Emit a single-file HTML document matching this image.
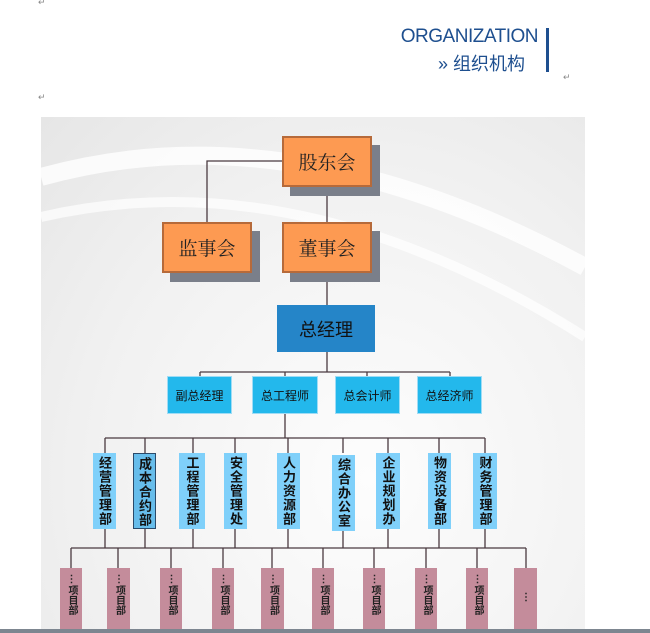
<!DOCTYPE html>
<html><head><meta charset="utf-8"><style>
body{margin:0;width:650px;height:633px;background:#fff;position:relative;overflow:hidden;font-family:"Liberation Sans","Noto Sans CJK SC",sans-serif}
.a{position:absolute}
.panel{left:41px;top:117px;width:544px;height:516px;background:radial-gradient(ellipse at 60% 70%,#fdfdfd 0%,#f1f1f1 60%,#e6e6e6 100%);overflow:hidden}
.or{background:#fd9a52;border:2px solid #b66a3a;box-shadow:8px 9px 0 #7a7f8a;box-sizing:border-box;font-family:"Noto Serif CJK SC",serif;font-size:19px;color:#222;display:flex;align-items:center;justify-content:center}
.b2{background:#23b8ec;font-size:12px;color:#111;display:flex;align-items:center;justify-content:center;box-sizing:border-box;border:1px solid #9fdcf5}
.d{background:#7fd0fa;font-size:13px;font-weight:bold;color:#111;box-sizing:border-box;line-height:1}
.d span{position:absolute;left:0;right:0;top:3px;writing-mode:vertical-rl;text-orientation:upright;white-space:nowrap;letter-spacing:1px;margin:0 auto;width:13px}
.p{background:#c48c9b;font-size:10px;font-weight:bold;color:#222}
.p span{position:absolute;left:0;right:0;top:6px;margin:0 auto;width:10px;writing-mode:vertical-rl;text-orientation:upright;white-space:nowrap;line-height:1}
.ret{font-size:9px;color:#888}
</style></head><body>
<div class="a ret" style="left:38px;top:-3px">↵</div>
<div class="a ret" style="left:38px;top:92px">↵</div>
<div class="a ret" style="left:563px;top:72px">↵</div>
<div class="a" style="left:380px;top:26px;font-size:19px;color:#1e4f8f;letter-spacing:-0.5px;width:158px;text-align:right;white-space:nowrap">ORGANIZATION</div>
<div class="a" style="left:438px;top:50px;font-size:18px;color:#1e4f8f">» 组织机构</div>
<div class="a" style="left:546px;top:28px;width:3px;height:44px;background:#1e4f8f"></div>
<div class="a panel">
<svg class="a" style="left:0;top:0" width="544" height="516"><path d="M0 60 Q250 -10 544 150" stroke="#fff" stroke-width="18" fill="none" opacity=".8"/><path d="M0 100 Q260 40 544 220" stroke="#fff" stroke-width="10" fill="none" opacity=".7"/></svg>
</div>
<svg class="a" style="left:0;top:0" width="650" height="633">
<g stroke="#4a3a40" stroke-width="1.3" fill="none">
<path d="M282 161H207V222M327 187V305M327 352V372M200 372H450M200 372V376M285 372V376M367 372V376M450 372V376"/>
<path d="M285 414V438M105 438H485M105 438V453M145 438V453M193 438V453M235 438V453M288 438V453M343 438V453M388 438V453M439 438V453M485 438V453"/>
<path d="M105 529V548M145 529V548M193 529V548M235 529V548M288 529V548M343 529V548M388 529V548M439 529V548M485 529V548"/>
<path d="M71 548H526M71 548V568M118 548V568M171 548V568M223 548V568M272 548V568M323 548V568M374 548V568M426 548V568M477 548V568M526 548V568"/>
</g></svg>
<div class="a or" style="left:282px;top:136px;width:90px;height:51px">股东会</div>
<div class="a or" style="left:162px;top:222px;width:90px;height:51px">监事会</div>
<div class="a or" style="left:282px;top:222px;width:90px;height:51px">董事会</div>
<div class="a" style="left:277px;top:305px;width:98px;height:47px;background:#2585c8;font-size:18px;color:#111;display:flex;align-items:center;justify-content:center">总经理</div>
<div class="a b2" style="left:167px;top:376px;width:65px;height:38px">副总经理</div>
<div class="a b2" style="left:252px;top:376px;width:66px;height:38px">总工程师</div>
<div class="a b2" style="left:335px;top:376px;width:65px;height:38px">总会计师</div>
<div class="a b2" style="left:417px;top:376px;width:65px;height:38px">总经济师</div>
<div class="a d" style="left:93px;top:453px;width:23px;height:76px"><span>经营管理部</span></div>
<div class="a d" style="left:133px;top:453px;width:23px;height:76px;border:1px solid #2a4a6a;background:#67bdeb"><span>成本合约部</span></div>
<div class="a d" style="left:179px;top:453px;width:26px;height:76px"><span>工程管理部</span></div>
<div class="a d" style="left:224px;top:453px;width:23px;height:76px"><span>安全管理处</span></div>
<div class="a d" style="left:277px;top:453px;width:23px;height:76px"><span>人力资源部</span></div>
<div class="a d" style="left:332px;top:455px;width:23px;height:76px"><span>综合办公室</span></div>
<div class="a d" style="left:376px;top:453px;width:24px;height:76px"><span>企业规划办</span></div>
<div class="a d" style="left:428px;top:453px;width:23px;height:76px"><span>物资设备部</span></div>
<div class="a d" style="left:473px;top:453px;width:24px;height:76px"><span>财务管理部</span></div>
<div class="a p" style="left:60px;top:568px;width:22px;height:65px"><span>⋮项目部</span></div>
<div class="a p" style="left:107px;top:568px;width:23px;height:65px"><span>⋮项目部</span></div>
<div class="a p" style="left:160px;top:568px;width:22px;height:65px"><span>⋮项目部</span></div>
<div class="a p" style="left:212px;top:568px;width:22px;height:65px"><span>⋮项目部</span></div>
<div class="a p" style="left:261px;top:568px;width:23px;height:65px"><span>⋮项目部</span></div>
<div class="a p" style="left:312px;top:568px;width:22px;height:65px"><span>⋮项目部</span></div>
<div class="a p" style="left:363px;top:568px;width:22px;height:65px"><span>⋮项目部</span></div>
<div class="a p" style="left:415px;top:568px;width:22px;height:65px"><span>⋮项目部</span></div>
<div class="a p" style="left:466px;top:568px;width:22px;height:65px"><span>⋮项目部</span></div>
<div class="a p" style="left:514px;top:568px;width:23px;height:65px"><span style="top:24px">⋮</span></div>
<div class="a" style="left:0;top:629px;width:650px;height:4px;background:#7d8690"></div>
</body></html>
